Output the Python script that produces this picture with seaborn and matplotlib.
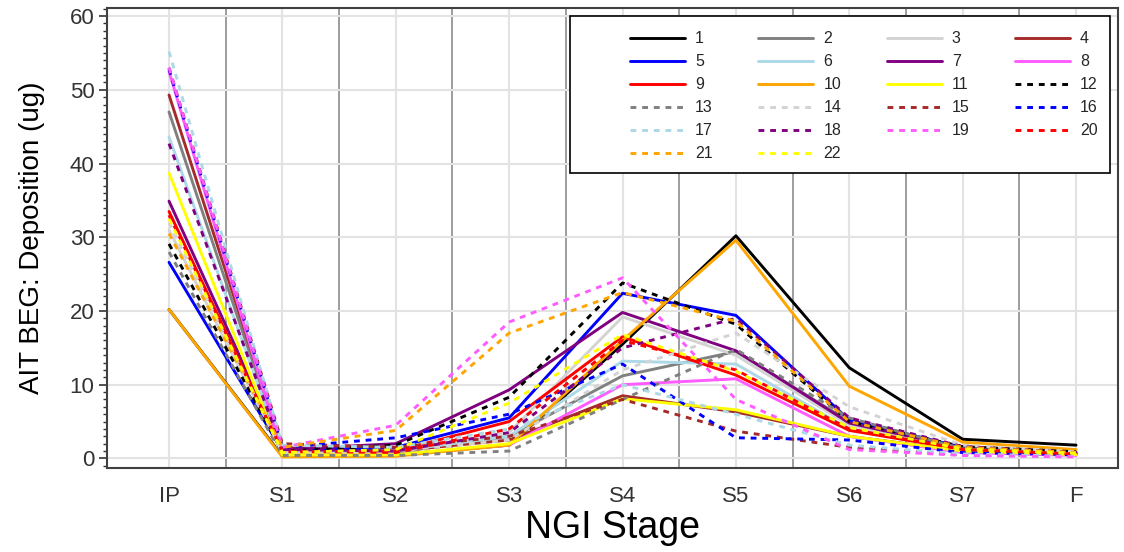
import numpy as np
import pandas as pd
import seaborn as sns
import matplotlib.pyplot as plt
from matplotlib.lines import Line2D
from matplotlib.patches import Rectangle
from matplotlib.ticker import MultipleLocator

sns.set_theme(style="white")
plt.rcParams['font.family'] = ['Liberation Sans', 'DejaVu Sans']

# NGI stages
stages = ['IP', 'S1', 'S2', 'S3', 'S4', 'S5', 'S6', 'S7', 'F']

# deposition (ug) per run
run_1 = [20.2, 0.3, 0.5, 1.8, 15.5, 30.2, 12.3, 2.6, 1.8]
run_2 = [47.0, 1.0, 0.8, 3.0, 11.2, 14.5, 5.0, 1.5, 0.8]
run_3 = [31.0, 0.8, 1.0, 3.5, 19.2, 14.0, 4.5, 1.2, 0.7]
run_4 = [49.3, 1.5, 1.0, 2.5, 8.5, 6.3, 3.0, 1.0, 0.5]
run_5 = [26.6, 1.0, 1.5, 5.5, 22.4, 19.4, 5.2, 1.5, 0.8]
run_6 = [43.6, 0.8, 1.0, 3.0, 13.2, 12.8, 4.0, 1.2, 0.6]
run_7 = [34.9, 1.2, 2.0, 9.3, 19.8, 14.6, 4.8, 1.4, 0.7]
run_8 = [52.5, 0.6, 0.5, 1.8, 10.0, 10.8, 3.0, 0.8, 0.4]
run_9 = [33.5, 0.8, 1.0, 5.0, 16.5, 11.3, 3.8, 1.2, 0.6]
run_10 = [20.2, 0.2, 0.3, 1.8, 16.0, 29.6, 9.8, 2.2, 1.2]
run_11 = [38.7, 0.5, 0.5, 2.0, 8.1, 6.6, 3.0, 1.0, 0.5]
run_12 = [29.1, 1.0, 1.8, 8.3, 23.8, 18.2, 5.0, 1.6, 0.9]
run_13 = [28.0, 0.4, 0.4, 1.0, 8.0, 14.8, 5.5, 1.3, 0.6]
run_14 = [32.0, 0.8, 1.0, 2.5, 12.0, 17.0, 7.0, 1.8, 0.9]
run_15 = [53.0, 2.0, 1.5, 3.0, 8.0, 3.7, 1.5, 0.5, 0.3]
run_16 = [52.8, 1.5, 2.8, 6.0, 12.8, 2.8, 2.5, 0.8, 0.5]
run_17 = [55.2, 1.8, 1.5, 4.0, 10.0, 6.0, 1.8, 0.6, 0.3]
run_18 = [42.7, 1.2, 1.0, 3.5, 15.0, 19.0, 5.5, 1.6, 0.8]
run_19 = [53.0, 1.5, 4.5, 18.5, 24.5, 8.0, 1.2, 0.4, 0.2]
run_20 = [33.0, 1.0, 0.8, 4.0, 16.0, 12.0, 4.0, 1.2, 0.6]
run_21 = [30.5, 1.5, 3.8, 17.0, 22.5, 18.6, 5.0, 1.5, 0.8]
run_22 = [32.5, 0.8, 1.2, 7.5, 16.8, 11.8, 4.2, 1.3, 0.7]

runs = [run_1, run_2, run_3, run_4, run_5, run_6, run_7, run_8, run_9, run_10, run_11,
        run_12, run_13, run_14, run_15, run_16, run_17, run_18, run_19, run_20, run_21, run_22]
labels = [str(i + 1) for i in range(len(runs))]

base_colors = ['black', '#808080', '#d3d3d3', '#a52a2a', 'blue', '#add8e6', '#800080',
               '#ff5cff', 'red', '#ffa500', '#ffff00']
colors = base_colors + base_colors
palette = dict(zip(labels, colors))
dashes = {lab: ('' if i < 11 else (2, 2)) for i, lab in enumerate(labels)}

df = pd.DataFrame({
    'Stage': stages * len(runs),
    'Deposition': np.concatenate(runs),
    'Run': np.repeat(labels, len(stages)),
})

fig = plt.figure(figsize=(11.24, 5.52), dpi=100)
ax = fig.add_axes([107 / 1124, 1 - 468 / 552, (1118 - 107) / 1124, (468 - 8) / 552])

sns.lineplot(data=df, x='Stage', y='Deposition', hue='Run', style='Run',
             palette=palette, dashes=dashes, linewidth=2.1, sort=False,
             estimator=None, legend=False, ax=ax)

ax.set_xlim(-0.547, 8.37)
ax.set_ylim(-1.3, 61.1)
ax.set_xticks(range(len(stages)))
ax.set_xticklabels(stages)
ax.set_xticks(np.arange(0.5, len(stages) - 1, 1), minor=True)
ax.yaxis.set_major_locator(MultipleLocator(10))
ax.yaxis.set_minor_locator(MultipleLocator(1))

ax.set_axisbelow(True)
ax.xaxis.grid(True, which='major', color='#e3e3e3', lw=1.5)
ax.xaxis.grid(True, which='minor', color='#8c8c8c', lw=1.2)
ax.yaxis.grid(True, which='major', color='#e3e3e3', lw=1.5)

ax.tick_params(axis='x', which='both', length=0, pad=13, labelsize=16, colors='#333333')
ax.tick_params(axis='y', which='major', left=True, length=6, width=1.2, pad=3,
               labelsize=16, colors='#333333')
ax.tick_params(axis='y', which='minor', left=True, length=3, width=1, colors='#333333')
for sp in ax.spines.values():
    sp.set_color('#404040')
    sp.set_linewidth(1.5)

ax.set_xlabel('NGI Stage', fontsize=27, color='black', labelpad=2)
ax.set_ylabel('AIT BEG: Deposition (ug)', fontsize=20, color='black', labelpad=18)

# legend box drawn separately, entries filled row by row like the original
ax.add_patch(Rectangle((0.458, 0.6413), 0.534, 0.3413, transform=ax.transAxes,
                       facecolor='white', edgecolor='black', lw=1.2, zorder=4.5))
handles = [Line2D([0], [0], color=palette[lab], lw=2.1,
                  linestyle='-' if dashes[lab] == '' else (0, (2, 2))) for lab in labels]
order = [i for c in range(4) for i in range(c, len(labels), 4)]
leg = ax.legend([handles[i] for i in order], [labels[i] for i in order], ncol=4,
                loc='upper left', bbox_to_anchor=(0.5173, 0.949),
                fontsize=11.5, frameon=False, handlelength=3.45, handletextpad=0.62,
                labelspacing=0.5, borderpad=0, columnspacing=2.85,
                borderaxespad=0)
leg.set_zorder(6)

fig.savefig('out.png', dpi=100)
